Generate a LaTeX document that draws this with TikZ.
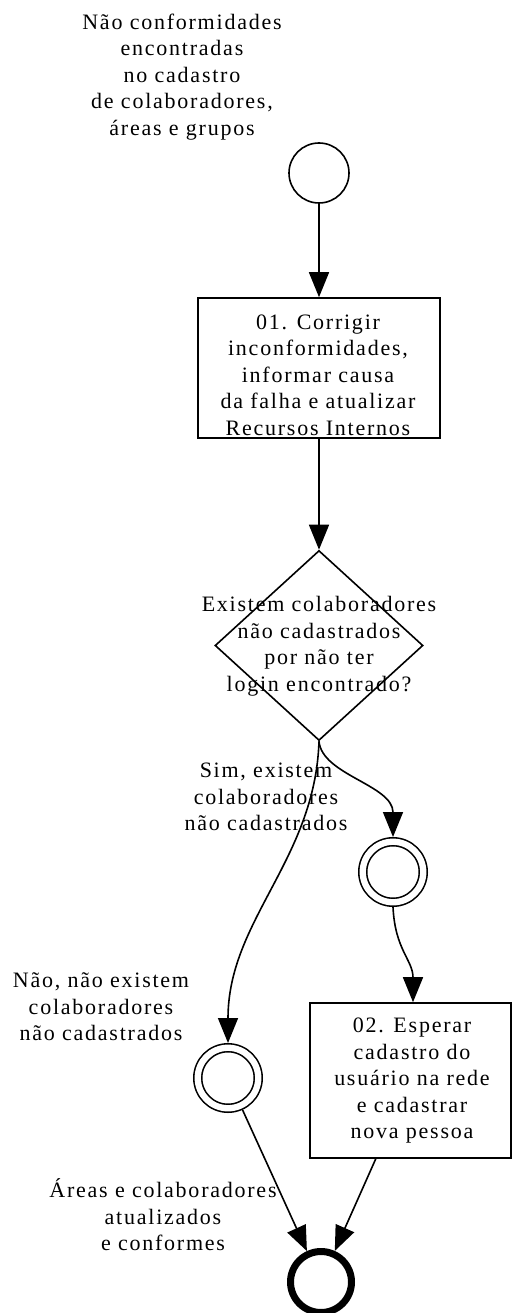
\documentclass[tikz,border=0pt]{standalone}
\usepackage{fontspec}
\setmainfont{Liberation Serif}[LetterSpace=8]
\usetikzlibrary{shapes.geometric,arrows.meta}
\begin{document}
\begin{tikzpicture}[x=1pt,y=-1pt,
  every node/.style={font=\fontsize{22}{26.5}\selectfont, align=center, inner sep=0pt},
  ln/.style={line width=1.6pt},
  arr/.style={ln, -{Triangle[length=25pt,width=20pt]}},
  startev/.style={circle, draw, ln, minimum size=60pt},
  interev/.style={circle, draw, ln, double, double distance=6.3pt, minimum size=60.5pt, outer sep=4.75pt},
  endev/.style={circle, draw, line width=7pt, minimum size=61pt},
  taskbox/.style={rectangle, draw, ln},
  gateway/.style={diamond, draw, ln, minimum width=208pt, minimum height=190pt}
]
\useasboundingbox (0,0) rectangle (513,1313);
\node[startev] (start) at (319,173) {};
\node (startlbl) at (182,77) {Não conformidades\\encontradas\\no cadastro\\de colaboradores,\\áreas e grupos};
\node[taskbox, minimum width=242pt, minimum height=140pt] (t1) at (319,368) {};
\node (t1txt) at (318,375) {01. Corrigir\\inconformidades,\\informar causa\\da falha e atualizar\\Recursos Internos};
\node[gateway] (gw) at (319,645.5) {};
\node (gwtxt) at (319,646) {Existem colaboradores\\não cadastrados\\por não ter\\login encontrado?};
\node[interev] (ie2) at (393,872) {};
\node[interev] (ie1) at (228,1078) {};
\node[taskbox, minimum width=201pt, minimum height=155pt] (t2) at (410.5,1080.5) {};
\node (t2txt) at (412,1081) {02. Esperar\\cadastro do\\usuário na rede\\e cadastrar\\nova pessoa};
\node[endev] (end) at (321,1282) {};
\node (simlbl) at (266,797) {Sim, existem\\colaboradores\\não cadastrados};
\node (naolbl) at (101,1007) {Não, não existem\\colaboradores\\não cadastrados};
\node (endlbl) at (163,1215) {Áreas e colaboradores\\atualizados\\e conformes};
\draw[arr] (start) -- (t1);
\draw[arr] (t1) -- (gw);
\draw[arr] (gw.south) .. controls (322,775) and (393,785) .. (ie2.north);
\draw[arr] (gw.south) .. controls (315,860) and (228,920) .. (ie1.north);
\draw[arr] (ie2.south) .. controls (395,950) and (413,960) .. (t2.north -| 413,0);
\draw[arr] (ie1) -- (end);
\draw[arr] (t2) -- (end);
\end{tikzpicture}
\end{document}
